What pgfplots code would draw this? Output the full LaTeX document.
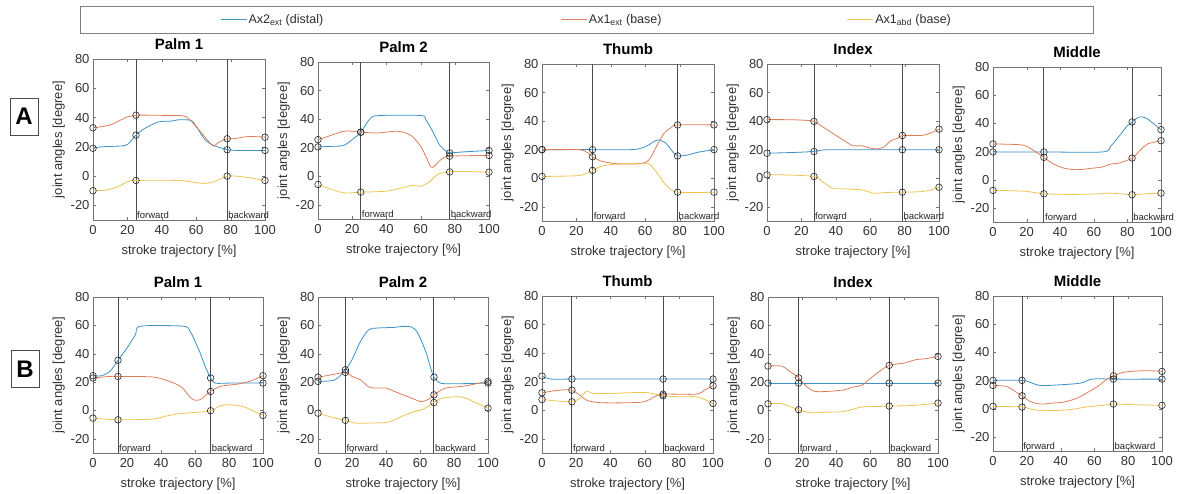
\documentclass[border=0pt]{standalone}
\usepackage{fontspec}
\setmainfont{Liberation Sans}
\usepackage{pgfplots}
\pgfplotsset{compat=1.18}
\definecolor{mblue}{RGB}{60,145,200}
\definecolor{morange}{RGB}{222,125,90}
\definecolor{myellow}{RGB}{236,196,80}
\definecolor{ltext}{RGB}{45,45,45}
\tikzset{
 dist/.style={color=mblue, draw=mblue, line width=0.8pt, smooth, tension=0.5, mark=none},
 bext/.style={color=morange, draw=morange, line width=0.8pt, smooth, tension=0.5, mark=none},
 babd/.style={color=myellow, draw=myellow, line width=0.8pt, smooth, tension=0.5, mark=none},
 ph/.style={color=black!70, line width=0.9pt, mark=none},
}
\pgfplotsset{
 circ/.style={only marks, mark=o, mark size=3.3pt, mark options={draw=black!85, line width=0.6pt}},
 sub/.style={
  scale only axis, clip=false,
  xmin=0, xmax=100, ymin=-30, ymax=80,
  xtick={0,20,...,100}, ytick={-20,0,...,80},
  tick align=inside, major tick length=3pt,
  axis line style={black!55}, tick style={black!55},
  tick label style={font=\fontsize{13}{14}\selectfont, text=black!80},
  xticklabel style={yshift=-1.5pt},
  label style={font=\fontsize{13}{14}\selectfont, text=black!80},
  xlabel style={yshift=-4pt},
  ylabel style={yshift=-1pt},
  title style={font=\bfseries\fontsize{15}{16}\selectfont, text=black},
  xlabel={stroke trajectory [\%]}, ylabel={joint angles [degree]},
  /pgf/number format/assume math mode=true,
 }
}
\newcommand{\phases}[2]{%
 \addplot[ph] coordinates {(#1,-30) (#1,80)};
 \addplot[ph] coordinates {(#2,-30) (#2,80)};
 \node[anchor=south west, inner sep=1pt, font=\fontsize{9.5}{10}\selectfont, text=black!85] at (axis cs:#1,-30) {forward};
 \node[anchor=south west, inner sep=1pt, font=\fontsize{9.5}{10}\selectfont, text=black!85] at (axis cs:#2,-30) {backward};
}
\begin{document}
\begin{tikzpicture}
\path[use as bounding box] (0pt,0pt) rectangle (1178pt,494pt);
\draw[black!50, line width=0.8pt] (80pt,461pt) rectangle (1093pt,488pt);
\node[draw=black!70, line width=0.8pt, minimum width=28pt, minimum height=37pt, inner sep=0pt, font=\bfseries\fontsize{24}{24}\selectfont] at (24pt,377.5pt) {A};
\node[draw=black!70, line width=0.8pt, minimum width=28pt, minimum height=37pt, inner sep=0pt, font=\bfseries\fontsize{24}{24}\selectfont] at (25pt,125pt) {B};

% ---------------- Row A ----------------
\begin{axis}[sub, at={(93pt,274pt)}, anchor=south west, width=172pt, height=161pt, title={Palm 1},
 legend columns=3, legend cell align=left,
 legend image code/.code={\draw[#1, line width=0.9pt] (0pt,0pt) -- (26pt,0pt);},
 legend style={at={(0.738,1.2453)}, anchor=west, draw=none, fill=none, inner sep=0pt,
   nodes={inner sep=0pt, font=\fontsize{12.5}{13}\selectfont},
   /tikz/every odd column/.style={column sep=1.5pt}}]
\addlegendimage{dist}\addlegendentry{\makebox[312pt][l]{\color{ltext}Ax2\textsubscript{ext} (distal)}}
\addlegendimage{bext}\addlegendentry{\makebox[258pt][l]{\color{ltext}Ax1\textsubscript{ext} (base)}}
\addlegendimage{babd}\addlegendentry{\color{ltext}Ax1\textsubscript{abd} (base)}
\phases{25}{78}
\addplot[dist] coordinates {(0,19)(5,20)(15,20.5)(20,21.5)(25,28)(30,32.5)(38,37)(45,37.5)(50,38.5)(57,38)(60,34)(65,25)(70,21)(75,19)(78,18)(85,17.5)(100,17.5)};
\addplot[bext] coordinates {(0,33)(10,35)(20,40.5)(25,41.6)(40,41.5)(53,41)(57,37.5)(62,31)(67,24)(70,20.5)(73,23)(78,25.5)(82,25.5)(90,27)(100,26.6)};
\addplot[babd] coordinates {(0,-10)(8,-9.5)(15,-7)(20,-4)(25,-3)(50,-3)(60,-4.5)(65,-5)(70,-4)(74,-2)(78,0)(83,0)(90,-1)(100,-3)};
\addplot[circ] coordinates {(0,19)(25,28)(78,18)(100,17.5)(0,33)(25,41.6)(78,25.5)(100,26.6)(0,-10)(25,-3)(78,0)(100,-3)};
\end{axis}

\begin{axis}[sub, at={(318pt,275pt)}, anchor=south west, width=171pt, height=157pt, title={Palm 2}]
\phases{25}{77}
\addplot[dist] coordinates {(0,20.5)(10,21)(15,21.5)(20,25.6)(25,30.8)(30,39.6)(35,42.4)(60,42.5)(63,39.6)(67,31.5)(71,22)(75,17.5)(77,16.3)(85,17)(100,18)};
\addplot[bext] coordinates {(0,25.6)(5,27.5)(10,29.6)(15,31.5)(20,31.5)(25,30.8)(35,30.3)(45,31.5)(50,30.8)(55,28)(60,21)(63,14)(66,6.5)(68,7)(72,11.7)(77,14)(100,14.5)};
\addplot[babd] coordinates {(0,-5.8)(5,-8)(15,-11.7)(25,-11.2)(40,-10.5)(50,-8)(55,-6.5)(60,-7)(65,-4.2)(70,1.2)(77,3)(85,3.3)(100,2.8)};
\addplot[circ] coordinates {(0,20.5)(25,30.8)(77,16.3)(100,18)(0,25.6)(25,30.8)(77,14)(100,14.5)(0,-5.8)(25,-11.2)(77,3)(100,2.8)};
\end{axis}

\begin{axis}[sub, at={(542pt,273pt)}, anchor=south west, width=172pt, height=157pt, title={Thumb}]
\phases{29.4}{78.8}
\addplot[dist] coordinates {(0,20)(25,20)(52,20)(60,22)(65,25.6)(68,26.8)(72,24.5)(76,18.6)(78.8,15.6)(85,16.3)(90,18)(100,20)};
\addplot[bext] coordinates {(0,20)(11,20)(22,20)(27,17.5)(29.4,15)(35,11.7)(45,10)(55,10)(60,11)(63,14)(67,23.3)(71,31.5)(75,35.4)(78.8,37.3)(100,37.3)};
\addplot[babd] coordinates {(0,1.2)(11,1.4)(22,1.9)(27,4)(29.4,5.4)(35,8.6)(45,10)(60,10.5)(63,9.3)(67,3.5)(72,-4.7)(78.8,-9.8)(100,-9.8)};
\addplot[circ] coordinates {(0,20)(29.4,20)(78.8,15.6)(100,20)(0,20)(29.4,15)(78.8,37.3)(100,37.3)(0,1.2)(29.4,5.4)(78.8,-9.8)(100,-9.8)};
\end{axis}

\begin{axis}[sub, at={(767pt,273pt)}, anchor=south west, width=172pt, height=157pt, title={Index}]
\phases{27.3}{78.7}
\addplot[dist] coordinates {(0,17.5)(15,18)(27.3,18.7)(35,19.9)(60,19.9)(100,19.9)};
\addplot[bext] coordinates {(0,41)(10,41)(20,40.7)(27.3,39.8)(32,36.3)(38,31.6)(45,26.2)(50,22.7)(55,22.7)(60,21)(65,20.6)(68,21.8)(72,26.2)(76,28)(78.7,29.9)(90,30)(95,31.6)(100,34.4)};
\addplot[babd] coordinates {(0,2.3)(10,2.3)(27.3,1.2)(32,-2.3)(38,-7)(45,-7.5)(55,-8.2)(62,-10.5)(70,-10)(78.7,-9.8)(90,-9.4)(95,-8.2)(100,-6.3)};
\addplot[circ] coordinates {(0,17.5)(27.3,18.7)(78.7,19.9)(100,19.9)(0,41)(27.3,39.8)(78.7,29.9)(100,34.4)(0,2.3)(27.3,1.2)(78.7,-9.8)(100,-6.3)};
\end{axis}

\begin{axis}[sub, at={(993pt,272pt)}, anchor=south west, width=168pt, height=155pt, title={Middle}]
\phases{30.3}{82.8}
\addplot[dist] coordinates {(0,19.7)(30.3,19.7)(65,19.7)(70,23.7)(75,30.8)(80,38.4)(82.8,41)(87,44.5)(91,43.8)(95,40.3)(100,35.5)};
\addplot[bext] coordinates {(0,25.4)(15,24.9)(20,23.7)(25,20.1)(30.3,15.9)(35,11.8)(42,8.3)(50,7.1)(60,8.3)(65,9)(70,11.1)(75,11.8)(82.8,15.4)(88,21.3)(92,25.4)(100,27.7)};
\addplot[babd] coordinates {(0,-7.6)(10,-7.8)(20,-8.3)(30.3,-10)(45,-10.4)(60,-10.2)(70,-9.5)(82.8,-10.7)(90,-10)(100,-9.5)};
\addplot[circ] coordinates {(0,19.7)(30.3,19.7)(82.8,41)(100,35.5)(0,25.4)(30.3,15.9)(82.8,15.4)(100,27.7)(0,-7.6)(30.3,-10)(82.8,-10.7)(100,-9.5)};
\end{axis}

% ---------------- Row B ----------------
\begin{axis}[sub, at={(93pt,41pt)}, anchor=south west, width=170pt, height=156pt, title={Palm 1}]
\phases{14.7}{69.2}
\addplot[dist] coordinates {(0,24.5)(5,24.5)(10,27.6)(14.7,35.4)(20,44)(25,53.5)(28,59.4)(53,59.4)(57,56)(60,48.8)(63,40.6)(66,31)(69.2,22.9)(72,19.3)(80,19.3)(100,19.3)};
\addplot[bext] coordinates {(0,22.9)(10,24)(14.7,24)(35,23.6)(45,20.5)(52,16.5)(56,11)(59,7.5)(63,7.5)(66,10.4)(69.2,13.4)(75,17)(85,18.6)(92,20.5)(100,24.5)};
\addplot[babd] coordinates {(0,-5.4)(14.7,-6.6)(35,-6.1)(42,-4.2)(50,-2.4)(60,-1.4)(69.2,-0.2)(75,3.3)(80,4)(88,2.8)(95,-0.7)(100,-3.5)};
\addplot[circ] coordinates {(0,24.5)(14.7,35.4)(69.2,22.9)(100,19.3)(0,22.9)(14.7,24)(69.2,13.4)(100,24.5)(0,-5.4)(14.7,-6.6)(69.2,-0.2)(100,-3.5)};
\end{axis}

\begin{axis}[sub, at={(318pt,41pt)}, anchor=south west, width=170pt, height=156pt, title={Palm 2}]
\phases{16.1}{68.2}
\addplot[dist] coordinates {(0,20.5)(10,21.6)(16.1,28.7)(20,35.8)(25,48.7)(30,57)(35,58.1)(45,58.6)(50,59.3)(55,58.8)(58,55.8)(61,48.7)(64,39.3)(66,31)(68.2,23.5)(72,19.3)(80,18.8)(100,19.3)};
\addplot[bext] coordinates {(0,23.5)(5,24.5)(10,25.6)(16.1,26.8)(20,24)(25,21.6)(30,16.5)(35,15.8)(40,15.8)(45,13.4)(50,11)(55,8.7)(60,6.4)(63,6.8)(66,8.7)(68.2,11)(75,15.8)(85,17)(95,19.3)(100,20.5)};
\addplot[babd] coordinates {(0,-1.9)(10,-5.4)(16.1,-7)(22,-8.9)(30,-8.9)(40,-8.5)(45,-6.6)(50,-3.8)(57,-0.7)(62,0.9)(66,4)(68.2,5.6)(73,8.7)(78,9.4)(85,9.4)(92,5.9)(100,1.6)};
\addplot[circ] coordinates {(0,20.5)(16.1,28.7)(68.2,23.5)(100,19.3)(0,23.5)(16.1,26.8)(68.2,11)(100,20.5)(0,-1.9)(16.1,-7)(68.2,5.6)(100,1.6)};
\end{axis}

\begin{axis}[sub, at={(542pt,41pt)}, anchor=south west, width=171pt, height=157pt, title={Thumb}]
\phases{17.5}{70.8}
\addplot[dist] coordinates {(0,23.9)(5,21.8)(17.5,21.8)(40,21.8)(70.8,21.8)(100,21.8)};
\addplot[bext] coordinates {(0,12.2)(10,14)(17.5,14)(22,10.5)(27,6.6)(35,5.2)(50,5.2)(60,5.9)(65,8.9)(70.8,11.2)(90,11.2)(95,14)(100,17.1)};
\addplot[babd] coordinates {(0,7.5)(10,6.3)(17.5,5.9)(22,8.2)(26,13.3)(30,11.7)(40,11.7)(60,12.4)(70.8,10.1)(80,9.4)(90,9.4)(95,7.5)(100,4.7)};
\addplot[circ] coordinates {(0,23.9)(17.5,21.8)(70.8,21.8)(100,21.8)(0,12.2)(17.5,14)(70.8,11.2)(100,17.1)(0,7.5)(17.5,5.9)(70.8,10.1)(100,4.7)};
\end{axis}

\begin{axis}[sub, at={(768pt,41pt)}, anchor=south west, width=170pt, height=156pt, title={Index}]
\phases{18}{71.3}
\addplot[dist] coordinates {(0,19.3)(18,19.3)(71.3,19.3)(100,19.3)};
\addplot[bext] coordinates {(0,31.3)(8,31.3)(12,28.2)(18,23)(22,17.6)(27,13.6)(35,13.4)(45,14.6)(50,16.5)(55,17.6)(60,22.4)(65,27)(71.3,31.8)(80,33.4)(87,35.8)(93,36.5)(100,38.1)};
\addplot[babd] coordinates {(0,4.7)(8,4.7)(18,0.5)(25,-1.6)(35,-1.2)(45,-0.7)(55,2.4)(65,2.8)(71.3,3.1)(85,3.5)(100,5.2)};
\addplot[circ] coordinates {(0,19.3)(18,19.3)(71.3,19.3)(100,19.3)(0,31.3)(18,23)(71.3,31.8)(100,38.1)(0,4.7)(18,0.5)(71.3,3.1)(100,5.2)};
\end{axis}

\begin{axis}[sub, at={(993pt,43pt)}, anchor=south west, width=169pt, height=155pt, title={Middle}]
\phases{17.2}{71.3}
\addplot[dist] coordinates {(0,20.1)(17.2,20.1)(22,18.7)(28,16.5)(40,17)(52,18.2)(57,20.6)(62,21.3)(71.3,21)(100,21)};
\addplot[bext] coordinates {(0,16.5)(8,15.8)(13,12.3)(17.2,9.2)(22,5.2)(28,3.3)(35,4)(42,4.7)(50,7.6)(57,12.3)(62,15.8)(67,20.6)(71.3,23.4)(78,26)(90,27)(100,26.5)};
\addplot[babd] coordinates {(0,1.7)(17.2,1.2)(22,-0.2)(30,-1.4)(45,-0.7)(55,1.2)(65,2.4)(71.3,3.3)(85,2.8)(100,2.4)};
\addplot[circ] coordinates {(0,20.1)(17.2,20.1)(71.3,21)(100,21)(0,16.5)(17.2,9.2)(71.3,23.4)(100,26.5)(0,1.7)(17.2,1.2)(71.3,3.3)(100,2.4)};
\end{axis}
\end{tikzpicture}
\end{document}
